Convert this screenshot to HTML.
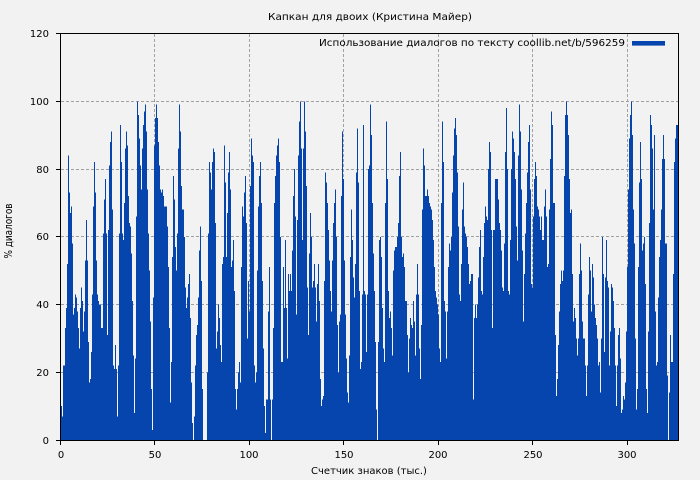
<!DOCTYPE html>
<html><head><meta charset="utf-8"><style>
html,body{margin:0;padding:0;background:#f2f2f2;}
svg{display:block;}
text{font-family:"DejaVu Sans","Liberation Sans","Noto Sans CJK SC",sans-serif;font-size:10px;fill:#000;}
</style></head><body>
<svg width="700" height="480" viewBox="0 0 700 480" xmlns="http://www.w3.org/2000/svg">
<rect x="0" y="0" width="700" height="480" fill="#f2f2f2"/>
<g stroke="#a0a0a0" stroke-width="1" stroke-dasharray="3,2" fill="none" shape-rendering="crispEdges">
<line x1="61" y1="372.5" x2="678" y2="372.5"/>
<line x1="61" y1="304.5" x2="678" y2="304.5"/>
<line x1="61" y1="236.5" x2="678" y2="236.5"/>
<line x1="61" y1="169.5" x2="678" y2="169.5"/>
<line x1="61" y1="101.5" x2="678" y2="101.5"/>
<line x1="154.5" y1="34" x2="154.5" y2="440"/>
<line x1="249.5" y1="34" x2="249.5" y2="440"/>
<line x1="343.5" y1="34" x2="343.5" y2="440"/>
<line x1="438.5" y1="34" x2="438.5" y2="440"/>
<line x1="532.5" y1="34" x2="532.5" y2="440"/>
<line x1="627.5" y1="34" x2="627.5" y2="440"/>
</g>
<g transform="translate(61,440) scale(1,-3.3875)">
<path fill="#0645ad" shape-rendering="crispEdges" d="M0 0V10h1V7h1V22h1V22h1V33h1V39h1V52h1V84h1V73h1V67h1V69h1V58h1V37h1V39h1V43h1V42h1V38h1V33h1V27h1V39h1V45h1V41h1V32h1V38h1V53h1V65h1V53h1V29h1V17h1V18h1V26h1V43h1V69h1V82h1V73h1V53h1V43h1V41h1V40h1V40h1V33h1V33h1V61h1V71h1V77h1V61h1V31h1V62h1V81h1V88h1V91h1V68h1V22h1V21h1V28h1V21h1V7h1V22h1V61h1V93h1V82h1V61h1V59h1V70h1V86h1V91h1V87h1V72h1V64h1V63h1V55h1V41h1V25h1V8h1V24h1V66h1V100h1V96h1V89h1V81h1V74h1V86h1V93h1V97h1V99h1V91h1V74h1V61h1V50h1V35h1V15h1V3h1V42h1V87h1V95h1V99h1V95h1V88h1V81h1V74h1V73h1V74h1V72h1V69h1V69h1V69h1V63h1V51h1V33h1V11h1V23h1V54h1V78h1V71h1V57h1V50h1V61h1V86h1V99h1V91h1V75h1V68h1V68h1V60h1V45h1V39h1V42h1V46h1V49h1V36h1V17h1V5h1V0h1V7h1V22h1V31h1V34h1V42h1V56h1V63h1V47h1V15h1V0h1V0h1V0h1V0h1V20h1V61h1V82h1V79h1V74h1V82h1V86h1V85h1V64h1V27h1V32h1V40h1V36h1V28h1V23h1V52h1V54h1V87h1V76h1V54h1V67h1V79h1V85h1V74h1V51h1V53h1V59h1V44h1V15h1V9h1V15h1V20h1V23h1V17h1V51h1V69h1V66h1V73h1V78h1V64h1V30h1V47h1V38h1V75h1V89h1V84h1V82h1V22h1V17h1V20h1V50h1V69h1V78h1V82h1V70h1V47h1V27h1V10h1V2h1V12h1V12h1V38h1V51h1V12h1V0h1V12h1V33h1V70h1V78h1V84h1V87h1V89h1V82h1V60h1V23h1V23h1V51h1V39h1V59h1V39h1V24h1V49h1V44h1V49h1V44h1V56h1V72h1V80h1V66h1V37h1V65h1V84h1V94h1V100h1V86h1V59h1V86h1V100h1V91h1V75h1V45h1V31h1V55h1V67h1V60h1V45h1V47h1V52h1V45h1V35h1V46h1V52h1V41h1V18h1V10h1V12h1V13h1V47h1V79h1V76h1V70h1V62h1V53h1V44h1V38h1V53h1V64h1V70h1V74h1V60h1V34h1V20h1V35h1V37h1V72h1V91h1V77h1V53h1V37h1V24h1V14h1V11h1V25h1V54h1V68h1V59h1V48h1V42h1V52h1V79h1V92h1V76h1V44h1V21h1V23h1V43h1V93h1V44h1V43h1V26h1V43h1V80h1V81h1V99h1V90h1V70h1V55h1V44h1V29h1V9h1V0h1V29h1V59h1V60h1V54h1V39h1V27h1V23h1V70h1V94h1V77h1V44h1V36h1V38h1V33h1V25h1V50h1V56h1V57h1V57h1V60h1V64h1V78h1V85h1V60h1V54h1V55h1V51h1V41h1V41h1V31h1V20h1V30h1V36h1V34h1V33h1V41h1V35h1V25h1V43h1V52h1V43h1V27h1V18h1V34h1V68h1V86h1V81h1V72h1V72h1V74h1V72h1V70h1V69h1V68h1V65h1V59h1V51h1V44h1V42h1V40h1V37h1V27h1V23h1V70h1V94h1V82h1V41h1V38h1V24h1V38h1V51h1V58h1V56h1V60h1V73h1V84h1V92h1V95h1V90h1V79h1V63h1V43h1V41h1V52h1V68h1V76h1V63h1V61h1V60h1V57h1V52h1V46h1V47h1V49h1V49h1V12h1V36h1V40h1V36h1V40h1V48h1V57h1V62h1V44h1V43h1V54h1V64h1V69h1V66h1V65h1V80h1V88h1V85h1V62h1V33h1V62h1V62h1V77h1V77h1V77h1V71h1V64h1V62h1V56h1V45h1V44h1V58h1V85h1V98h1V80h1V44h1V43h1V59h1V80h1V91h1V89h1V85h1V77h1V63h1V53h1V84h1V99h1V91h1V74h1V56h1V35h1V49h1V61h1V70h1V79h1V88h1V93h1V74h1V46h1V45h1V66h1V77h1V82h1V78h1V69h1V68h1V66h1V62h1V66h1V59h1V59h1V69h1V74h1V66h1V51h1V52h1V68h1V83h1V97h1V93h1V70h1V70h1V31h1V13h1V18h1V28h1V38h1V46h1V50h1V47h1V50h1V78h1V96h1V100h1V96h1V90h1V77h1V67h1V68h1V49h1V35h1V39h1V36h1V30h1V25h1V30h1V49h1V58h1V50h1V35h1V30h1V30h1V22h1V13h1V22h1V43h1V54h1V50h1V38h1V52h1V48h1V40h1V36h1V34h1V30h1V22h1V23h1V14h1V30h1V60h1V49h1V26h1V48h1V59h1V47h1V45h1V22h1V32h1V46h1V45h1V41h1V33h1V22h1V10h1V22h1V31h1V33h1V24h1V8h1V9h1V13h1V12h1V17h1V32h1V51h1V74h1V89h1V96h1V100h1V90h1V68h1V58h1V30h1V9h1V15h1V51h1V76h1V88h1V77h1V56h1V58h1V60h1V46h1V15h1V8h1V32h1V64h1V96h1V93h1V86h1V68h1V90h1V38h1V22h1V23h1V42h1V54h1V59h1V68h1V83h1V90h1V83h1V58h1V58h1V19h1V0h1V14h1V31h1V23h1V23h1V49h1V82h1V89h1V93h1V93h1V0Z"/>
</g>
<rect x="60.5" y="33.5" width="618" height="407" fill="none" stroke="#000" stroke-width="1" shape-rendering="crispEdges"/>
<g stroke="#000" stroke-width="1" shape-rendering="crispEdges">
<line x1="56" y1="440.5" x2="60" y2="440.5"/>
<line x1="56" y1="372.5" x2="60" y2="372.5"/>
<line x1="56" y1="304.5" x2="60" y2="304.5"/>
<line x1="56" y1="236.5" x2="60" y2="236.5"/>
<line x1="56" y1="169.5" x2="60" y2="169.5"/>
<line x1="56" y1="101.5" x2="60" y2="101.5"/>
<line x1="56" y1="33.5" x2="60" y2="33.5"/>
<line x1="60.5" y1="441" x2="60.5" y2="445"/>
<line x1="154.5" y1="441" x2="154.5" y2="445"/>
<line x1="249.5" y1="441" x2="249.5" y2="445"/>
<line x1="343.5" y1="441" x2="343.5" y2="445"/>
<line x1="438.5" y1="441" x2="438.5" y2="445"/>
<line x1="532.5" y1="441" x2="532.5" y2="445"/>
<line x1="627.5" y1="441" x2="627.5" y2="445"/>
</g>
<g text-anchor="end">
<text x="49" y="444">0</text>
<text x="49" y="376">20</text>
<text x="49" y="308">40</text>
<text x="49" y="240">60</text>
<text x="49" y="173">80</text>
<text x="49" y="105">100</text>
<text x="49" y="37">120</text>
</g>
<g text-anchor="middle">
<text x="61" y="458">0</text>
<text x="155" y="458">50</text>
<text x="249" y="458">100</text>
<text x="344" y="458">150</text>
<text x="438" y="458">200</text>
<text x="533" y="458">250</text>
<text x="627" y="458">300</text>
</g>
<text x="370" y="20" text-anchor="middle" textLength="204" lengthAdjust="spacingAndGlyphs">Капкан для двоих (Кристина Майер)</text>
<text x="625" y="46" text-anchor="end" textLength="306" lengthAdjust="spacingAndGlyphs">Использование диалогов по тексту coollib.net/b/596259</text>
<rect x="632" y="41" width="33" height="4.6" fill="#0645ad"/>
<text x="369" y="474" text-anchor="middle">Счетчик знаков (тыс.)</text>
<text transform="translate(12,231) rotate(-90)" text-anchor="middle" style="font-size:11px" textLength="55" lengthAdjust="spacingAndGlyphs">% диалогов</text>
</svg>
</body></html>
